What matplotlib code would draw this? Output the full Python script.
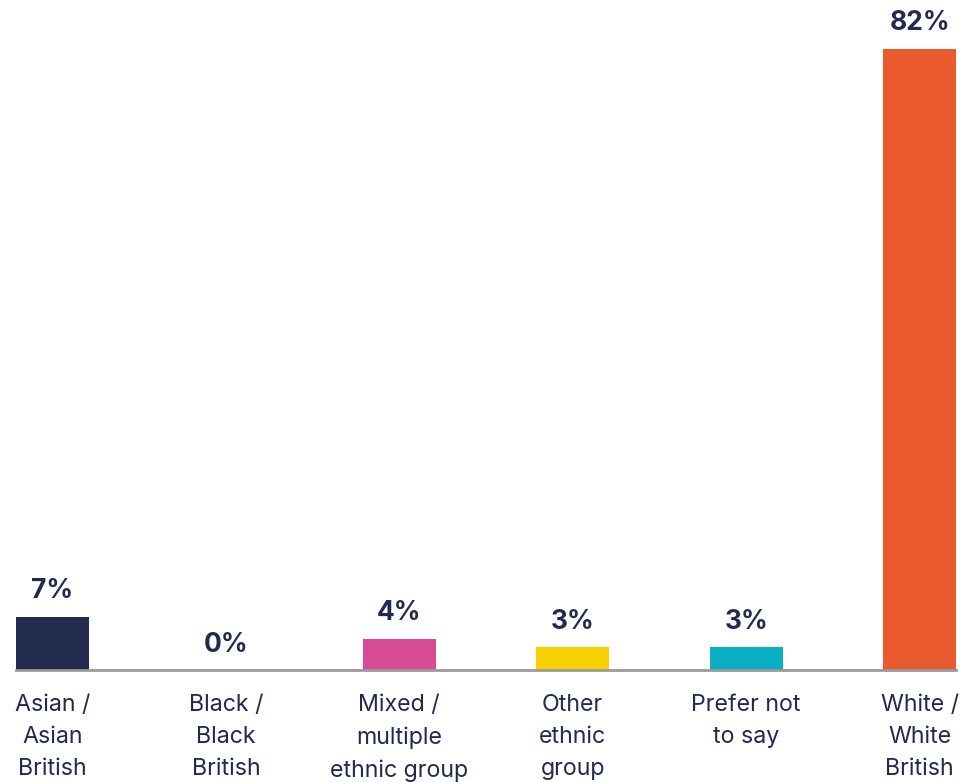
import matplotlib.pyplot as plt

categories = ["Asian /\nAsian\nBritish", "Black /\nBlack\nBritish", "Mixed /\nmultiple\nethnic group",
              "Other\nethnic\ngroup", "Prefer not\nto say", "White /\nWhite\nBritish"]
values = [7.0, 0.0, 4.1, 3.0, 3.0, 82.0]
labels = ["7%", "0%", "4%", "3%", "3%", "82%"]
colors = ["#222a4d", "#222a4d", "#d64b94", "#f7d000", "#0aafc4", "#e95a2e"]
text_color = "#222a4d"

plt.rcParams["font.family"] = ["Inter", "DejaVu Sans"]

fig = plt.figure(figsize=(9.62, 7.82), dpi=100)
ax = fig.add_axes([16 / 962, 1 - 670 / 782, 940 / 962, 670 / 782])

x = range(len(categories))
bars = ax.bar(x, values, width=0.42, color=colors)

for xi, v, lab in zip(x, values, labels):
    ax.annotate(lab, (xi, v), xytext=(0, 9), textcoords="offset points",
                ha="center", va="bottom", fontsize=19, fontweight="bold", color=text_color)

ax.set_xlim(-0.21, 5.21)
ax.set_ylim(0, 88.4)
ax.set_xticks(list(x))
ax.set_xticklabels(categories, fontsize=16.7, color=text_color, linespacing=1.58)
ax.tick_params(axis="x", length=0, pad=17.5)
ax.set_yticks([])
for side in ["top", "right", "left"]:
    ax.spines[side].set_visible(False)
ax.spines["bottom"].set_color("#9a9a9a")
ax.spines["bottom"].set_linewidth(2)

fig.savefig("out.png", dpi=100)
plt.close()
